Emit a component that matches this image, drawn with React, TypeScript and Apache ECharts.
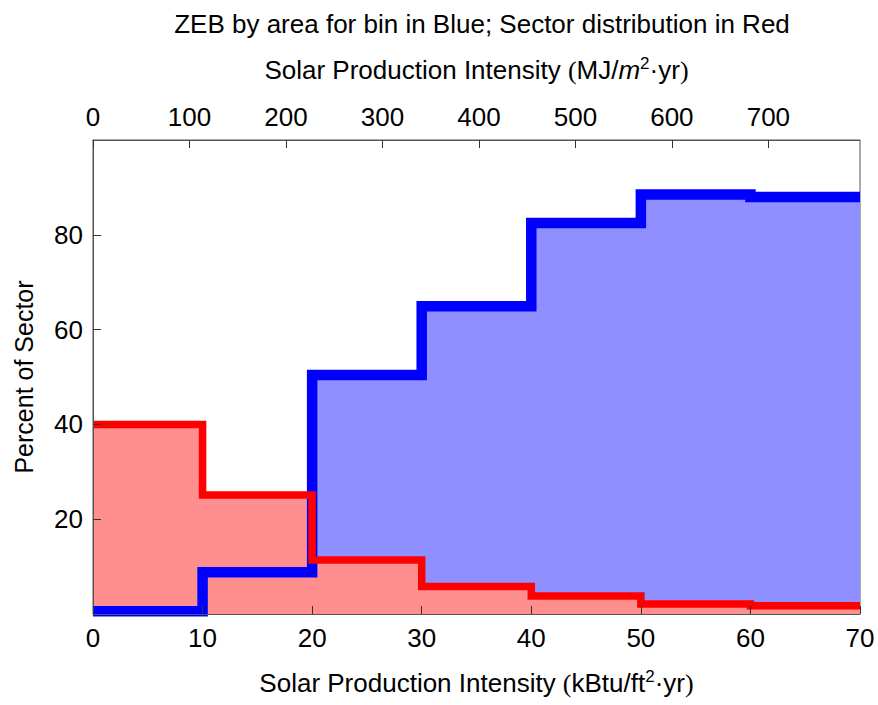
import React, { useEffect, useRef } from "react";
import * as echarts from "echarts";

// Bin starts (kBtu/ft²·yr); the last point closes the final step at 70
const binEdges = [0, 10, 20, 30, 40, 50, 60, 70];
// Percent ZEB by area for each bin (blue)
const zebPercent = [0.6, 8.8, 50.4, 64.9, 82.5, 88.5, 88.0, 88.0];
// Sector distribution (red)
const sectorPercent = [40.0, 25.1, 11.4, 5.8, 3.8, 2.1, 1.75, 1.75];

const KBTU_FT2_TO_MJ_M2 = 11.357;
const X_MAX = 70;
const Y_MAX = 100;

const TITLE = "ZEB by area for bin in Blue; Sector distribution in Red";
const Y_NAME = "Percent of Sector";

const SANS = "'Liberation Sans', Arial, Helvetica, sans-serif";
const SERIF = "'Liberation Serif', 'Times New Roman', serif";

const BLUE = "#0000ff";
const RED = "#ff0000";
const BLUE_FILL = "#8f8fff";
const RED_FILL = "#ff8f8f";

const richName = {
  s: { fontFamily: SANS, fontSize: 26, lineHeight: 30, color: "#000" },
  i: { fontFamily: SANS, fontSize: 26, lineHeight: 30, color: "#000", fontStyle: "italic" },
  p: { fontFamily: SERIF, fontSize: 26, lineHeight: 30, color: "#000" },
  sup: { fontFamily: SANS, fontSize: 17, lineHeight: 17, color: "#000", verticalAlign: "top" },
};

export default function App() {
  const ref = useRef<HTMLDivElement>(null);

  useEffect(() => {
    if (!ref.current) return;
    const chart = echarts.init(ref.current, undefined, { renderer: "svg" });

    const pts = (ys: number[]) => binEdges.map((x, i) => [x, ys[i]]);

    const axisLabelStyle = { fontFamily: SANS, fontSize: 26, color: "#000" };

    chart.setOption({
      animation: false,
      backgroundColor: "#fff",
      title: {
        text: TITLE,
        left: 477,
        top: 6,
        textAlign: "center",
        textStyle: { fontFamily: SANS, fontSize: 26, fontWeight: "normal", color: "#000" },
      },
      grid: {
        left: 93,
        right: 18,
        top: 140,
        bottom: 91,
        show: true,
        borderColor: "#555",
        borderWidth: 1,
        backgroundColor: "transparent",
      },
      xAxis: [
        {
          type: "value",
          position: "bottom",
          min: 0,
          max: X_MAX,
          interval: 10,
          splitLine: { show: false },
          axisLine: { show: true, lineStyle: { color: "#555", width: 1 } },
          axisTick: { show: true, inside: true, length: 8, lineStyle: { color: "#333" } },
          axisLabel: { ...axisLabelStyle, margin: 11 },
          name: "{s|Solar Production Intensity }{p|(}{s|kBtu/ft}{sup|2}{s|·yr}{p|)}",
          nameLocation: "middle",
          nameGap: 54,
          nameTextStyle: { rich: richName },
          z: 10,
        },
        {
          type: "value",
          position: "top",
          min: 0,
          max: X_MAX * KBTU_FT2_TO_MJ_M2,
          interval: 100,
          splitLine: { show: false },
          axisLine: { show: true, lineStyle: { color: "#555", width: 1 } },
          axisTick: { show: true, inside: true, length: 8, lineStyle: { color: "#333" } },
          axisLabel: {
            ...axisLabelStyle,
            margin: 10,
            showMaxLabel: false,
            formatter: (v: number) => (Math.abs(v % 100) < 1e-6 ? String(v) : ""),
          },
          name: "{s|Solar Production Intensity }{p|(}{s|MJ/}{i|m}{sup|2}{s|·yr}{p|)}",
          nameLocation: "middle",
          nameGap: 55,
          nameTextStyle: { rich: richName },
          z: 10,
        },
      ],
      yAxis: {
        type: "value",
        min: 0,
        max: Y_MAX,
        interval: 20,
        splitLine: { show: false },
        axisLine: { show: true, lineStyle: { color: "#555", width: 1 } },
        axisTick: { show: true, inside: true, length: 8, lineStyle: { color: "#333" } },
        axisLabel: { ...axisLabelStyle, margin: 10, showMinLabel: false, showMaxLabel: false },
        name: Y_NAME,
        nameLocation: "middle",
        nameGap: 57,
        nameTextStyle: { fontFamily: SANS, fontSize: 25, color: "#000" },
        z: 10,
      },
      series: [
        {
          name: "ZEB fill",
          type: "line",
          step: "end",
          data: pts(zebPercent),
          showSymbol: false,
          symbol: "none",
          lineStyle: { width: 0, opacity: 0 },
          areaStyle: { color: BLUE_FILL, opacity: 1, origin: "start" },
          z: 1,
        },
        {
          name: "Sector fill",
          type: "line",
          step: "end",
          data: pts(sectorPercent),
          showSymbol: false,
          symbol: "none",
          lineStyle: { width: 0, opacity: 0 },
          areaStyle: { color: RED_FILL, opacity: 1, origin: "start" },
          z: 2,
        },
        {
          name: "ZEB",
          type: "line",
          step: "end",
          data: pts(zebPercent),
          showSymbol: false,
          symbol: "none",
          clip: false,
          lineStyle: { color: BLUE, width: 10.5, join: "miter", cap: "butt" },
          z: 3,
        },
        {
          name: "Sector",
          type: "line",
          step: "end",
          data: pts(sectorPercent),
          showSymbol: false,
          symbol: "none",
          clip: false,
          lineStyle: { color: RED, width: 7.5, join: "miter", cap: "butt" },
          z: 4,
        },
      ],
    });

    return () => chart.dispose();
  }, []);

  return (
    <div
      ref={ref}
      style={{ position: "fixed", left: 0, top: 0, width: 878, height: 705, background: "#fff" }}
    />
  );
}
